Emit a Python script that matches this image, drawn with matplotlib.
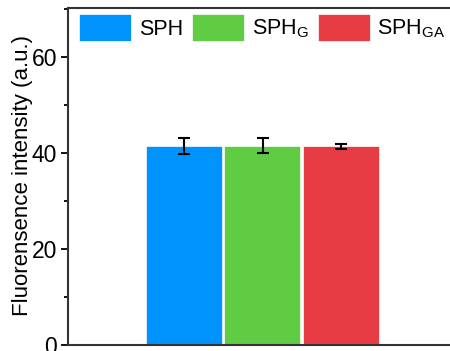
import matplotlib.pyplot as plt
from matplotlib.ticker import MultipleLocator

plt.rcParams['font.family'] = ['Liberation Sans', 'DejaVu Sans']
plt.rcParams['mathtext.fontset'] = 'custom'
plt.rcParams['mathtext.rm'] = 'Liberation Sans'

labels = ['SPH', r'SPH$_\mathregular{G}$', r'SPH$_\mathregular{GA}$']
values = [41.5, 41.5, 41.4]
errors = [1.7, 1.6, 0.55]
colors = ['#0093fb', '#5fcc44', '#e83c45']

fig = plt.figure(figsize=(4.5, 3.51), dpi=100)
ax = fig.add_axes([68/450, 6/351, 1.05 - 68/450, (345-8)/351])

x = [0, 1, 2]
for i in range(3):
    ax.bar(x[i], values[i], width=0.98, color=colors[i], edgecolor='white',
           linewidth=1.2, label=labels[i])
ax.errorbar(x, values, yerr=errors, fmt='none', ecolor='black', elinewidth=1.5,
            capsize=4, capthick=1.5)

ax.set_xlim(-1.48, 3.67)
ax.set_ylim(0, 70.2)
ax.yaxis.set_major_locator(MultipleLocator(20))
ax.yaxis.set_minor_locator(MultipleLocator(10))
ax.set_xticks([])
ax.tick_params(axis='y', which='major', length=5, width=1.3, labelsize=16.5, pad=3)
ax.tick_params(axis='y', which='minor', length=3, width=1.3)
for lab in ax.get_yticklabels():
    lab.set_family(['Liberation Sans Narrow', 'Liberation Sans', 'DejaVu Sans'])
for s in ax.spines.values():
    s.set_linewidth(1.5)
    s.set_color('#333333')
ax.set_ylabel('Fluorensence intensity (a.u.)', fontsize=16)
ax.yaxis.set_label_coords(-0.087, 0.503)

ax.legend(loc='upper left', bbox_to_anchor=(0.007, 1.008), ncol=3, frameon=False,
          fontsize=15.5, handlelength=2.45, handleheight=1.6, handletextpad=0.3,
          columnspacing=0.45, borderaxespad=0)

fig.savefig('out.png', dpi=100)
